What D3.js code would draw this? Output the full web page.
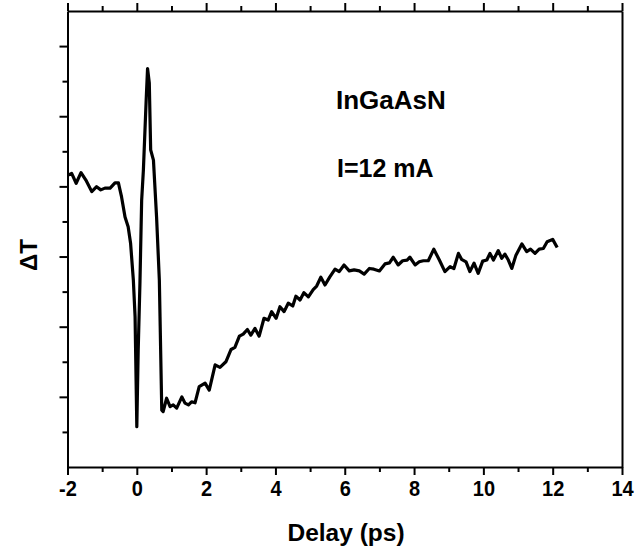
<!DOCTYPE html>
<html>
<head>
<meta charset="utf-8">
<script src="https://d3js.org/d3.v7.min.js"></script>
<style>
body { margin: 0; background: #fff; }
text { font-family: "Liberation Sans", Arial, sans-serif; font-weight: bold; fill: #000; }
.axis path, .axis line { stroke: #000; stroke-width: 2; }
</style>
</head>
<body>
<svg width="635" height="551"></svg>
<script>
// delay (ps) and transmission change (arb. units)
var delay = [-1.98,-1.88,-1.75,-1.61,-1.47,-1.30,-1.16,-1.04,-0.92,-0.77,-0.63,-0.53,-0.51,-0.44,-0.34,-0.25,-0.18,-0.10,-0.05,0.00,
  0.04,0.09,0.14,0.19,0.27,0.31,0.36,0.40,0.48,0.57,0.65,0.72,0.76,0.86,0.96,1.05,1.15,1.30,1.39,1.49,
  1.58,1.68,1.80,1.97,2.09,2.26,2.40,2.57,2.72,2.83,2.96,3.07,3.19,3.29,3.41,3.53,3.67,3.79,3.89,4.02,
  4.13,4.25,4.37,4.50,4.59,4.71,4.82,4.95,5.09,5.19,5.31,5.43,5.57,5.72,5.84,5.98,6.13,6.27,6.42,6.56,
  6.71,6.84,7.00,7.16,7.29,7.40,7.54,7.67,7.80,7.88,8.03,8.15,8.27,8.41,8.57,8.73,8.89,9.04,9.15,9.28,
  9.37,9.50,9.61,9.73,9.85,9.98,10.10,10.19,10.29,10.43,10.53,10.62,10.72,10.82,10.94,11.11,11.25,11.36,11.49,11.61,
  11.73,11.84,12.00,12.13];
var dT = [2.32,2.37,2.09,2.39,2.18,1.85,1.99,1.90,1.95,1.95,2.10,2.10,2.01,1.70,1.13,0.85,0.38,-0.67,-1.72,-4.85,
  -2.67,-0.76,1.61,2.47,4.46,5.36,4.95,3.04,2.75,1.13,-0.67,-4.38,-4.42,-4.04,-4.28,-4.23,-4.32,-4.00,-4.18,-4.23,
  -4.14,-4.17,-3.71,-3.61,-3.81,-3.09,-3.16,-3.00,-2.65,-2.59,-2.27,-2.21,-2.08,-2.24,-2.05,-2.27,-1.76,-1.81,-1.57,-1.76,
  -1.43,-1.57,-1.33,-1.41,-1.13,-1.24,-1.03,-1.15,-0.94,-0.84,-0.59,-0.81,-0.58,-0.36,-0.43,-0.24,-0.41,-0.38,-0.41,-0.50,
  -0.34,-0.36,-0.41,-0.21,-0.18,-0.02,-0.24,-0.12,-0.10,-0.02,-0.24,-0.15,-0.12,-0.12,0.21,-0.10,-0.43,-0.29,-0.34,0.09,
  -0.08,-0.15,-0.43,-0.19,-0.48,-0.13,-0.10,0.09,-0.10,0.17,-0.05,0.07,-0.10,-0.34,0.04,0.36,0.14,0.21,0.09,0.21,
  0.23,0.42,0.49,0.26];

var xMajor = [-2,0,2,4,6,8,10,12,14];
var xMinor = [-1,1,3,5,7,9,11,13];
var yMajor = [-4,-2,0,2,4,6];
var yMinor = [-5,-3,-1,1,3,5];

var svg = d3.select("svg");
var x = d3.scaleLinear().domain([-2, 14]).range([67.5, 622]);
var y = d3.scaleLinear().domain([-6, 7]).range([467, 11]);

// bottom axis with labels (plain hyphen for minus, as in the original)
var gb = svg.append("g").attr("class", "axis").attr("transform", "translate(0,467)");
gb.call(d3.axisBottom(x).tickValues(xMajor).tickSize(8).tickSizeOuter(0).tickPadding(4)
  .tickFormat(function(d) { return String(d); }));
gb.append("g").call(d3.axisBottom(x).tickValues(xMinor).tickSize(5).tickFormat(""))
  .select(".domain").remove();
gb.selectAll("text").attr("font-size", 20).attr("font-family", null)
  .attr("transform", "scale(1,1.1)");

// top axis, ticks only
var gt = svg.append("g").attr("class", "axis").attr("transform", "translate(0,11)");
gt.call(d3.axisTop(x).tickValues(xMajor).tickSize(8).tickSizeOuter(0).tickFormat(""));
gt.append("g").call(d3.axisTop(x).tickValues(xMinor).tickSize(5).tickFormat(""))
  .select(".domain").remove();

// left axis, ticks only
var gl = svg.append("g").attr("class", "axis").attr("transform", "translate(67.5,0)");
gl.call(d3.axisLeft(y).tickValues(yMajor).tickSize(8).tickSizeOuter(0).tickFormat(""));
gl.append("g").call(d3.axisLeft(y).tickValues(yMinor).tickSize(5).tickFormat(""))
  .select(".domain").remove();

// right edge
svg.append("g").attr("class", "axis").attr("transform", "translate(622,0)")
  .call(d3.axisRight(y).tickValues([]).tickSizeOuter(0));

var line = d3.line()
  .x(function(d, i) { return x(delay[i]); })
  .y(function(d) { return y(d); });

svg.append("path")
  .datum(dT)
  .attr("d", line)
  .attr("fill", "none")
  .attr("stroke", "#000")
  .attr("stroke-width", 3.2)
  .attr("stroke-linejoin", "round");

svg.append("text").attr("x", 346).attr("y", 541).attr("text-anchor", "middle")
  .attr("font-size", 24.5).text("Delay (ps)");

svg.append("text").attr("transform", "translate(37,255) rotate(-90)")
  .attr("text-anchor", "middle").attr("font-size", 24).text("ΔT");

svg.append("text").attr("x", 336).attr("y", 109).attr("font-size", 26).text("InGaAsN");
svg.append("text").attr("x", 337).attr("y", 177).attr("font-size", 25).text("I=12 mA");
</script>
</body>
</html>
